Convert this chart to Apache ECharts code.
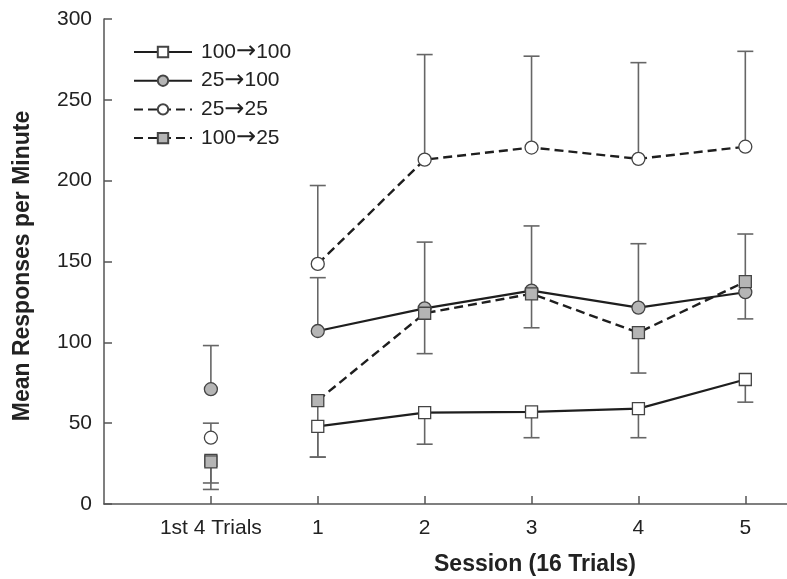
<!DOCTYPE html>
<html>
<head>
<meta charset="utf-8">
<script src="https://cdn.jsdelivr.net/npm/echarts@6/dist/echarts.min.js"></script>
<style>
  html, body { margin: 0; padding: 0; background: #fff; }
  #chart { width: 787px; height: 579px; }
</style>
</head>
<body>
<div id="chart"></div>
<script>
// x positions 0..5, label for each
var categories = ["1st 4 Trials", "1", "2", "3", "4", "5"];
var yTicks = [0, 50, 100, 150, 200, 250, 300];

// means per group
var g100to100 = [27, 48, 56.5, 57, 59, 77];
var g25to100 = [71, 107, 121, 132, 121.5, 131];
var g25to25 = [41, 148.5, 213, 220.5, 213.5, 221];
var g100to25 = [26, 64, 118, 130, 106, 137.5];

// end of the one-sided error bars
var g100to100Low = [13, 29, 37, 41, 41, 63];
var g25to100High = [98, 140, 162, 172, 161, 167];
var g25to25High = [50, 197, 278, 277, 273, 280];
var g100to25Low = [9, 29, 93, 109, 81, 114.5];

var font = "'Liberation Sans', Arial, Helvetica, sans-serif";
var myChart = echarts.init(document.getElementById("chart"));

// first point ("1st 4 Trials") stands alone, so break the line after it
function pairs(arr) {
  var out = [];
  arr.forEach(function (v, i) {
    out.push([i, v]);
    if (i === 0) out.push([0.5, "-"]);
  });
  return out;
}

// error bar data: [x, mean, end]
var errData = [];
[[g100to100, g100to100Low], [g25to100, g25to100High], [g25to25, g25to25High], [g100to25, g100to25Low]]
  .forEach(function (g) {
    g[0].forEach(function (v, i) { errData.push([i, v, g[1][i]]); });
  });

function lineSeries(name, data, dashed, symbol, fill) {
  return {
    name: name,
    type: "line",
    data: pairs(data),
    connectNulls: false,
    symbol: symbol,
    symbolSize: symbol === "rect" ? 12 : 13,
    showAllSymbol: true,
    z: 3,
    lineStyle: { color: "#1e1e1e", width: dashed ? 2.4 : 2.2, type: dashed ? [9, 5] : "solid" },
    itemStyle: { color: fill, borderColor: "#444", borderWidth: 1.3 },
    emphasis: { disabled: true },
  };
}

myChart.setOption({
  animation: false,
  grid: { left: 104, right: 0, top: 19, bottom: 75, containLabel: false },
  legend: {
    data: ["100→100", "25→100", "25→25", "100→25"],
    orient: "vertical",
    left: 133,
    top: 40,
    padding: 0,
    itemWidth: 58,
    itemHeight: 13,
    itemGap: 4.7,
    selectedMode: false,
    formatter: function (name) {
      var p = name.split("→");
      return "{t|" + p[0] + "}{a|→}{t|" + p[1] + "}";
    },
    textStyle: {
      padding: [0, 0, 0, 4],
      rich: {
        t: { fontFamily: font, fontSize: 21, lineHeight: 21, color: "#222" },
        a: { fontFamily: "'DejaVu Sans'", fontSize: 24, lineHeight: 21, color: "#222" },
      },
    },
  },
  xAxis: {
    type: "value",
    min: -1,
    max: 5.39,
    interval: 1,
    splitLine: { show: false },
    axisLine: { lineStyle: { color: "#555", width: 1.5 } },
    axisTick: { inside: true, length: 8, lineStyle: { color: "#555", width: 1.5 } },
    axisLabel: {
      showMinLabel: false,
      showMaxLabel: false,
      margin: 14,
      fontFamily: font,
      fontSize: 21,
      color: "#222",
      formatter: function (v) {
        return v >= 0 && v < categories.length ? categories[v] : "";
      },
    },
  },
  yAxis: {
    type: "value",
    min: yTicks[0],
    max: yTicks[yTicks.length - 1],
    interval: 50,
    splitLine: { show: false },
    axisLine: { onZero: false, lineStyle: { color: "#555", width: 1.5 } },
    axisTick: { inside: true, length: 8, lineStyle: { color: "#555", width: 1.5 } },
    axisLabel: { margin: 12, fontFamily: font, fontSize: 21, color: "#222" },
  },
  graphic: [
    {
      type: "text",
      x: 23,
      y: 266,
      rotation: Math.PI / 2,
      style: {
        text: "Mean Responses per Minute",
        fontFamily: font,
        fontSize: 23,
        fontWeight: "bold",
        fill: "#222",
        align: "center",
        verticalAlign: "middle",
      },
    },
    {
      type: "text",
      x: 535,
      y: 565,
      style: {
        text: "Session (16 Trials)",
        fontFamily: font,
        fontSize: 23,
        fontWeight: "bold",
        fill: "#222",
        align: "center",
        verticalAlign: "middle",
      },
    },
  ],
  series: [
    {
      type: "custom",
      z: 1,
      data: errData,
      silent: true,
      renderItem: function (params, api) {
        var p0 = api.coord([api.value(0), api.value(1)]);
        var p1 = api.coord([api.value(0), api.value(2)]);
        var style = { stroke: "#666", lineWidth: 1.6 };
        return {
          type: "group",
          children: [
            { type: "line", shape: { x1: p0[0], y1: p0[1], x2: p1[0], y2: p1[1] }, style: style },
            { type: "line", shape: { x1: p1[0] - 8, y1: p1[1], x2: p1[0] + 8, y2: p1[1] }, style: style },
          ],
        };
      },
    },
    lineSeries("100→100", g100to100, false, "rect", "#ffffff"),
    lineSeries("25→100", g25to100, false, "circle", "#b5b5b5"),
    lineSeries("25→25", g25to25, true, "circle", "#ffffff"),
    lineSeries("100→25", g100to25, true, "rect", "#b5b5b5"),
  ],
});

window.addEventListener("resize", function () {
  myChart.resize();
});
</script>
</body>
</html>
